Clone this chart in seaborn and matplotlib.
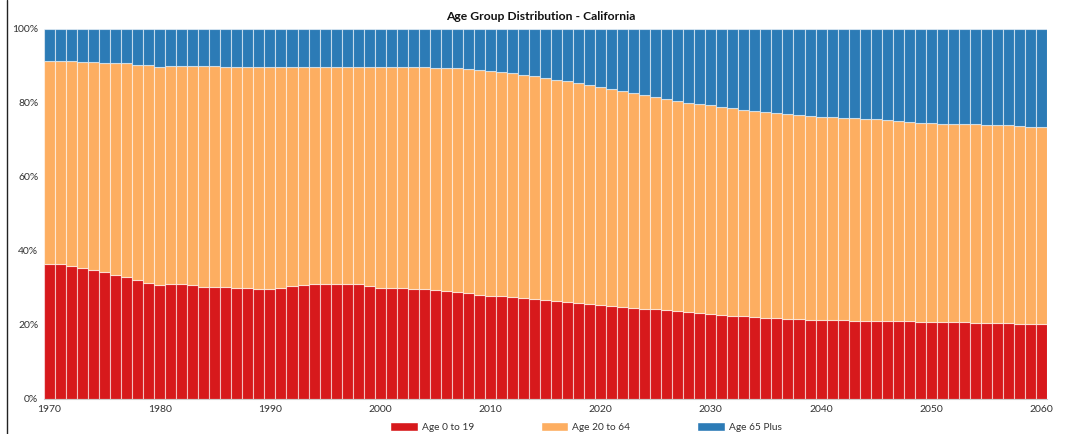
import seaborn as sns
import matplotlib.pyplot as plt
import matplotlib.patches as mpatches
from matplotlib.lines import Line2D
import pandas as pd

sns.set_style("white")
plt.rcParams["font.family"] = ["Lato", "DejaVu Sans"]

# Share of population by age group (%)
years = list(range(1970, 2061))
age_0_19 = [
    36.4, 36.4, 35.9, 35.5, 34.9, 34.3, 33.6, 32.9, 32.2, 31.4,
    30.7, 31.0, 31.0, 30.7, 30.4, 30.4, 30.2, 30.0, 30.0, 29.7,
    29.7, 30.1, 30.5, 30.7, 31.0, 31.2, 31.2, 31.0, 31.0, 30.5,
    30.1, 30.1, 30.1, 29.7, 29.7, 29.5, 29.2, 29.0, 28.7, 28.1,
    27.8, 27.8, 27.6, 27.4, 27.1, 26.8, 26.4, 26.2, 25.9, 25.7,
    25.5, 25.2, 24.9, 24.7, 24.4, 24.2, 24.0, 23.8, 23.5, 23.3,
    23.1, 22.8, 22.5, 22.3, 22.1, 21.8, 21.8, 21.6, 21.6, 21.4,
    21.4, 21.4, 21.4, 21.1, 21.1, 21.1, 21.1, 21.1, 21.1, 20.8,
    20.8, 20.8, 20.8, 20.8, 20.5, 20.5, 20.5, 20.5, 20.3, 20.3, 20.3,
]
age_20_64 = [
    54.9, 55.0, 55.5, 55.7, 56.2, 56.6, 57.3, 57.8, 58.2, 59.0,
    59.1, 59.1, 59.1, 59.4, 59.7, 59.7, 59.6, 59.8, 59.8, 60.1,
    60.1, 59.7, 59.3, 59.1, 58.8, 58.6, 58.6, 58.8, 58.8, 59.1,
    59.5, 59.5, 59.5, 59.9, 59.9, 59.9, 60.2, 60.4, 60.4, 60.8,
    60.8, 60.7, 60.4, 60.2, 60.2, 60.0, 59.9, 59.7, 59.4, 59.2,
    58.9, 58.5, 58.3, 58.1, 57.8, 57.3, 57.1, 56.7, 56.6, 56.3,
    56.3, 56.1, 56.1, 55.9, 55.8, 55.7, 55.4, 55.3, 55.2, 55.1,
    54.9, 54.8, 54.6, 54.8, 54.7, 54.5, 54.3, 54.0, 53.8, 53.9,
    53.8, 53.6, 53.6, 53.6, 53.9, 53.6, 53.6, 53.5, 53.6, 53.3, 53.1,
]
age_65_plus = [
    8.7, 8.6, 8.6, 8.8, 8.9, 9.1, 9.1, 9.3, 9.6, 9.6,
    10.2, 9.9, 9.9, 9.9, 9.9, 9.9, 10.2, 10.2, 10.2, 10.2,
    10.2, 10.2, 10.2, 10.2, 10.2, 10.2, 10.2, 10.2, 10.2, 10.4,
    10.4, 10.4, 10.4, 10.4, 10.4, 10.6, 10.6, 10.6, 10.9, 11.1,
    11.4, 11.5, 12.0, 12.4, 12.7, 13.2, 13.7, 14.1, 14.7, 15.1,
    15.6, 16.3, 16.8, 17.2, 17.8, 18.5, 18.9, 19.5, 19.9, 20.4,
    20.6, 21.1, 21.4, 21.8, 22.1, 22.5, 22.8, 23.1, 23.2, 23.5,
    23.7, 23.8, 24.0, 24.1, 24.2, 24.4, 24.6, 24.9, 25.1, 25.3,
    25.4, 25.6, 25.6, 25.6, 25.6, 25.9, 25.9, 26.0, 26.1, 26.4, 26.6,
]

groups = ["Age 0 to 19", "Age 20 to 64", "Age 65 Plus"]
colors = {"Age 0 to 19": "#d7191c", "Age 20 to 64": "#fdae61", "Age 65 Plus": "#2c7bb6"}

df = pd.concat([
    pd.DataFrame({"Year": years, "Share": age_0_19, "Group": groups[0]}),
    pd.DataFrame({"Year": years, "Share": age_20_64, "Group": groups[1]}),
    pd.DataFrame({"Year": years, "Share": age_65_plus, "Group": groups[2]}),
])

fig = plt.figure(figsize=(10.77, 4.34), dpi=100)
ax = fig.add_axes([44 / 1077, 35 / 434, 1003 / 1077, 370 / 434])

# histplot stacks the last hue level at the bottom
sns.histplot(
    data=df, x="Year", weights="Share", hue="Group",
    hue_order=groups[::-1], palette=colors, multiple="stack",
    discrete=True, shrink=1, alpha=1, legend=False,
    edgecolor=(1, 1, 1, 0.55), linewidth=0.8, ax=ax,
)

ax.set_xlim(1969.5, 2060.5)
ax.set_ylim(0, 100)
ax.set_xticks(range(1970, 2061, 10))
ax.set_yticks(range(0, 101, 20))
ax.set_yticklabels([f"{v}%" for v in range(0, 101, 20)])
ax.tick_params(axis="both", labelsize=7.5, colors="#333333", length=0, pad=4)
ax.set_xlabel("")
ax.set_ylabel("")
for side in ["top", "right", "left"]:
    ax.spines[side].set_visible(False)
ax.spines["bottom"].set_color("#cccccc")
ax.spines["bottom"].set_linewidth(0.8)

fig.text(541 / 1077, 1 - 16 / 434, "Age Group Distribution - California",
         ha="center", va="center", fontsize=8.7, fontweight="bold", color="#111111")

handles = [mpatches.Patch(facecolor=colors[g], label=g) for g in groups]
fig.legend(handles=handles, loc="center", ncol=3, frameon=False,
           bbox_to_anchor=(586 / 1077, 1 - 427 / 434), fontsize=7.3,
           handlelength=2.7, handleheight=0.9, handletextpad=0.4,
           columnspacing=6.6, labelcolor="#333333")

# thin frame line on the left edge of the image
fig.add_artist(Line2D([6.5 / 1077, 6.5 / 1077], [0, 1], transform=fig.transFigure,
                      color="#222222", linewidth=1))

fig.savefig("out.png", dpi=100)
plt.close(fig)
